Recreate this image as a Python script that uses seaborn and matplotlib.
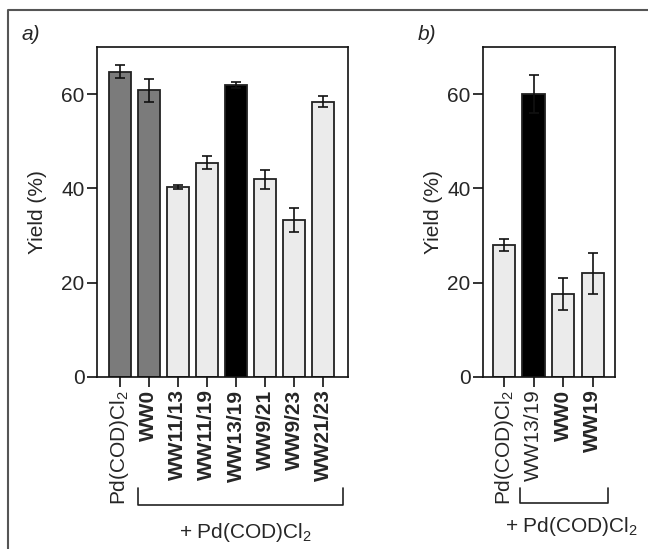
import matplotlib
matplotlib.use("Agg")
import matplotlib.pyplot as plt
import seaborn as sns
import pandas as pd
import numpy as np

# ---- data ----
cats_a = ["Pd(COD)Cl$_2$", "WW0", "WW11/13", "WW11/19", "WW13/19", "WW9/21", "WW9/23", "WW21/23"]
yield_a = [64.8, 60.8, 40.3, 45.5, 61.9, 41.9, 33.3, 58.4]
err_a = [1.3, 2.4, 0.5, 1.3, 0.6, 2.1, 2.5, 1.2]
colors_a = ["#7b7b7b", "#7b7b7b", "#ebebeb", "#ebebeb", "#000000", "#ebebeb", "#ebebeb", "#ebebeb"]
bold_a = [False, True, True, True, True, True, True, True]

cats_b = ["Pd(COD)Cl$_2$", "WW13/19", "WW0", "WW19"]
yield_b = [28.0, 60.0, 17.6, 22.0]
err_b = [1.2, 4.0, 3.4, 4.4]
colors_b = ["#ebebeb", "#000000", "#ebebeb", "#ebebeb"]
bold_b = [False, False, True, True]

yticks = [0, 20, 40, 60]
bracket_label = "+ Pd(COD)Cl$_2$"

sns.set_theme(style="white")
plt.rcParams["font.family"] = ["Liberation Sans", "DejaVu Sans"]
plt.rcParams["mathtext.fontset"] = "custom"
plt.rcParams["mathtext.rm"] = "Liberation Sans"
plt.rcParams["mathtext.it"] = "Liberation Sans:italic"
plt.rcParams["mathtext.bf"] = "Liberation Sans:bold"

FS = 15
W, H = 648, 549
fig = plt.figure(figsize=(W / 100, H / 100), dpi=100)
fig.patch.set_facecolor("white")

def fx(px):
    return px / W

def fy(py):
    return 1 - py / H

ax_a = fig.add_axes([fx(97), fy(377), fx(348) - fx(97), fy(47) - fy(377)])
ax_b = fig.add_axes([fx(483), fy(377), fx(615) - fx(483), fy(47) - fy(377)])


def draw(ax, cats, vals, errs, cols, bolds, xl, lpad):
    df = pd.DataFrame({"cat": cats, "val": vals})
    sns.barplot(data=df, x="cat", y="val", hue="cat", palette=cols, legend=False,
                width=0.76, edgecolor="#222222", linewidth=1.3, errorbar=None, ax=ax)
    x = np.arange(len(cats))
    ax.errorbar(x, vals, yerr=errs, fmt="none", ecolor="#111111", elinewidth=1.2,
                capsize=3.5, capthick=1.2, zorder=5)
    ax.set_ylim(0, 70)
    ax.set_xlim(*xl)
    ax.set_yticks(yticks)
    ax.set_yticklabels([str(t) for t in yticks], fontsize=FS)
    ax.set_xticks(x)
    ax.set_xticklabels(cats, rotation=90, fontsize=FS, va="top", ha="center")
    for lab, b in zip(ax.get_xticklabels(), bolds):
        if b:
            lab.set_fontweight("bold")
    ax.set_xlabel("")
    ax.set_ylabel("Yield (%)", fontsize=FS, labelpad=lpad)
    for s in ax.spines.values():
        s.set_visible(True)
        s.set_color("#111111")
        s.set_linewidth(1.2)
    ax.tick_params(axis="both", which="major", direction="out", length=7, width=1.2,
                   color="#111111", pad=2, bottom=True, left=True)
    ax.set_facecolor("white")


draw(ax_a, cats_a, yield_a, err_a, colors_a, bold_a, (-0.79, 7.86), 10)
draw(ax_b, cats_b, yield_b, err_b, colors_b, bold_b, (-0.71, 3.75), 3)

# bracket lines (figure pixel coords)
def bracket(x0, x1, ytop, ybot):
    fig.add_artist(plt.Line2D([fx(x0), fx(x0), fx(x1), fx(x1)],
                              [fy(ytop), fy(ybot), fy(ybot), fy(ytop)],
                              color="#222222", lw=1.2))

bracket(138, 343, 488, 505)
bracket(520, 608, 488, 503)
fig.text(fx(246), fy(533), bracket_label, fontsize=FS, ha="center", va="center")
fig.text(fx(572), fy(527), bracket_label, fontsize=FS, ha="center", va="center")

# panel labels
fig.text(fx(22), fy(35), "a)", fontsize=FS, style="italic", ha="left", va="center")
fig.text(fx(418), fy(34), "b)", fontsize=FS, style="italic", ha="left", va="center")

# outer frame lines
fig.add_artist(plt.Line2D([fx(8), fx(8), 1.0], [0.0, fy(10), fy(10)], color="#555555", lw=1.5))

fig.savefig("out.png", dpi=100, facecolor="white")
